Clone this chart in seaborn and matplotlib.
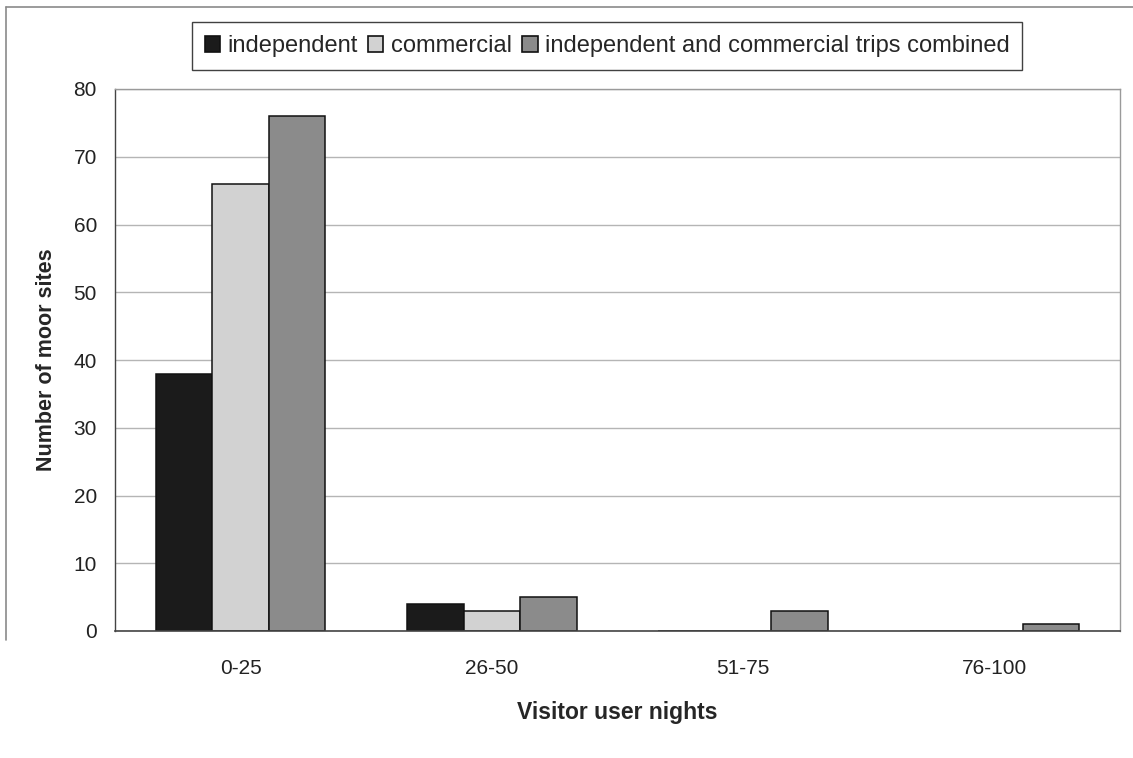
import matplotlib
matplotlib.use("Agg")
import matplotlib.pyplot as plt
from matplotlib.lines import Line2D
from matplotlib.patches import Patch
import seaborn as sns
import pandas as pd

# Number of moor sites per visitor-user-night class
categories = ["0-25", "26-50", "51-75", "76-100"]
independent = [38, 4, 0, 0]
commercial = [66, 3, 0, 0]
combined = [76, 5, 3, 1]
series_names = ["independent", "commercial",
                "independent and commercial trips combined"]
y_ticks = [0, 10, 20, 30, 40, 50, 60, 70, 80]

df = pd.DataFrame({
    "group": categories * 3,
    "series": [series_names[0]] * 4 + [series_names[1]] * 4 + [series_names[2]] * 4,
    "value": independent + commercial + combined,
})

sns.set_style("white")
plt.rcParams["font.family"] = ["Liberation Sans", "DejaVu Sans"]

colors = ["#1b1b1b", "#d2d2d2", "#8b8b8b"]

fig = plt.figure(figsize=(11.33, 7.58), dpi=100)
ax = fig.add_axes([115 / 1133, 1 - 631 / 758, (1120 - 115) / 1133, (631 - 89) / 758])

sns.barplot(data=df, x="group", y="value", hue="series", order=categories,
            hue_order=series_names, palette=colors, width=0.675, gap=0,
            edgecolor="#111111", linewidth=1.1, saturation=1, legend=False, ax=ax)

ax.set_xlim(-0.5, len(categories) - 0.5)
ax.set_ylim(0, 80)
ax.set_yticks(y_ticks)
ax.yaxis.grid(True, color="#b5b5b5", linewidth=1.0)
ax.set_axisbelow(True)

# category labels centred, tick marks on the boundaries between categories
ax.set_xticks(range(len(categories)))
ax.set_xticklabels(categories)
ax.set_xticks([i - 0.5 for i in range(len(categories) + 1)], minor=True)
ax.tick_params(axis="x", which="major", length=0, pad=20, labelsize=15, colors="#222222")
ax.tick_params(axis="x", which="minor", length=7, width=1, color="#555555", direction="out")
ax.tick_params(axis="y", which="major", length=7, width=1, color="#555555",
               direction="out", labelsize=15, labelcolor="#222222", pad=6)

for side in ["top", "right"]:
    ax.spines[side].set_color("#9a9a9a")
    ax.spines[side].set_linewidth(1.0)
ax.spines["left"].set_color("#444444")
ax.spines["bottom"].set_color("#444444")
ax.spines["left"].set_linewidth(1.0)
ax.spines["bottom"].set_linewidth(1.2)

ax.set_xlabel("Visitor user nights", fontsize=16.5, fontweight="bold", labelpad=17)
ax.set_ylabel("Number of moor sites", fontsize=15.5, fontweight="bold", labelpad=12)

handles = [Patch(facecolor=c, edgecolor="#111111", linewidth=1.2) for c in colors]
leg = fig.legend(handles, series_names, loc="center", bbox_to_anchor=(607 / 1133, 1 - 46 / 758),
                 ncol=3, frameon=True, fancybox=False, edgecolor="#111111", fontsize=17,
                 handlelength=0.65, handleheight=0.65, handletextpad=0.3, columnspacing=0.45,
                 borderpad=0.55, borderaxespad=0)
leg.get_frame().set_linewidth(1.0)

# outer chart border (top and left edges)
fig.add_artist(Line2D([6 / 1133, 1], [1 - 7 / 758, 1 - 7 / 758], transform=fig.transFigure,
                      color="#8a8a8a", linewidth=1.2))
fig.add_artist(Line2D([6 / 1133, 6 / 1133], [1 - 7 / 758, 1 - 640 / 758], transform=fig.transFigure,
                      color="#8a8a8a", linewidth=1.2))

fig.savefig("out.png", dpi=100)
